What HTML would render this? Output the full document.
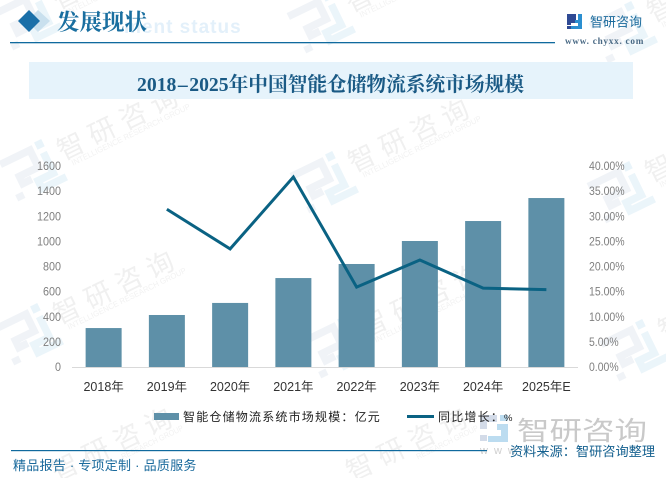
<!DOCTYPE html>
<html lang="zh">
<head>
<meta charset="utf-8">
<title>2018-2025年中国智能仓储物流系统市场规模</title>
<style>
html,body{margin:0;padding:0;background:#fff;width:666px;height:478px;overflow:hidden}
#stage{display:block;width:666px;height:478px}
text{font-family:"Liberation Sans","Noto Sans CJK SC",sans-serif}
.serif{font-family:"Liberation Serif","Noto Serif CJK SC",serif;font-weight:700}
</style>
</head>
<body>
<svg id="stage" xmlns="http://www.w3.org/2000/svg" width="666" height="478" viewBox="0 0 666 478">
  <defs>
    <g id="logo-mark">
      <path d="M-27 -17 L6 -17 L6 2 L-15 2 L-15 10 L-5 10" fill="none" stroke="#f0f3f7" stroke-width="7.5"/>
      <rect x="-27" y="17" width="8" height="7" fill="#f0f3f7"/>
      <rect x="13" y="-22" width="8" height="8" fill="#e9f4fa"/>
      <path d="M17 -9 L17 14 L0 14 L0 23 L27 23" fill="none" stroke="#ebf5fa" stroke-width="7.5"/>
    </g>
  </defs>
  <g id="watermarks"></g>

  <g>
    <text x="124" y="33" font-size="19" font-weight="700" fill="#e3f0fa" letter-spacing="1">ment status</text>
    <polygon points="38,10 50,21 38,32 27,21" fill="#c9e0ee"/>
    <polygon points="29,10 40,21 29,32 18,21" fill="#1a6fa8"/>
    <text x="57" y="30" font-size="22.5" class="serif" fill="#1a6fa0">发展现状</text>
    <rect x="10" y="42" width="545" height="1.3" fill="#106a9e"/>
  </g>

  <g>
    <path d="M567 14h9v9h-5v2h-4z M567 26h4v3h-4z" fill="#2f4a94"/>
    <path d="M578 14h4v15h-11v-3h7v-3h-3v-3h3z" fill="#2b8fd0"/>
    <text x="590" y="26.5" font-size="13" fill="#1a6a9c">智研咨询</text>
    <text x="565" y="44" font-size="9.2" class="serif" fill="#4a6a85" letter-spacing="0.75">www. chyxx. com</text>
  </g>

  <rect x="29" y="62" width="604" height="37" fill="#e6f3fb"/>
  <text x="137" y="91" font-size="19.7" class="serif" fill="#1a5a85">2018<tspan dx="1.5">–</tspan><tspan dx="1.5">2025年中国智能仓储物流系统市场规模</tspan></text>

  <g id="plot"></g>

  <g>
    <path d="M480 415h17v7h-10v7h-7z M480 435h7v6h-7z" fill="#d3dbe8"/>
    <path d="M500 415h8v6h-8z M500 424h8v18h-20v-6h13v-6h-4v-6z" fill="#bcdcf0"/>
    <text x="517" y="440" font-size="26" fill="#c9c9c9" textLength="130" lengthAdjust="spacingAndGlyphs">智研咨询</text>
    <text x="480" y="454" font-size="11" fill="#cfcfcf" letter-spacing="6">www</text>
  </g>

  <g>
    <rect x="154" y="413" width="25" height="7" fill="#5e90a8"/>
    <text x="183" y="421" font-size="12" fill="#222" letter-spacing="1.2">智能仓储物流系统市场规模：亿元</text>
    <line x1="407" x2="434" y1="416.5" y2="416.5" stroke="#0a6283" stroke-width="3"/>
    <text x="438" y="421" font-size="12" fill="#222" letter-spacing="1.2">同比增长：<tspan font-size="9.5" letter-spacing="0">%</tspan></text>
  </g>

  <g>
    <rect x="11" y="450" width="476" height="1.2" fill="#106a9e"/>
    <text x="13" y="470" font-size="13" fill="#1a6a9c" letter-spacing="0.25">精品报告 · 专项定制 · 品质服务</text>
    <text x="510" y="456" font-size="13.2" fill="#14608f">资料来源：智研咨询整理</text>
  </g>
</svg>
<script>
var categories = ["2018年","2019年","2020年","2021年","2022年","2023年","2024年","2025年E"];
var marketSize = [310,414,510,708,820,1003,1162,1345];
var growthRate = [null,31.4,23.5,37.8,15.9,21.3,15.7,15.4];
var leftTicks = [0,200,400,600,800,1000,1200,1400,1600];
var rightTicks = [0,5,10,15,20,25,30,35,40];

var NS = "http://www.w3.org/2000/svg";
var plotLeft = 72, plotRight = 578, plotTop = 166, plotBottom = 367;
var leftMax = 1600, rightMax = 40, barWidth = 36;

function xBand(i){ return plotLeft + (i + 0.5) * (plotRight - plotLeft) / categories.length; }
function yLeft(v){ return plotBottom - v / leftMax * (plotBottom - plotTop); }
function yRight(v){ return plotBottom - v / rightMax * (plotBottom - plotTop); }
function make(parent, tag, attrs, txt){
  var el = document.createElementNS(NS, tag);
  for (var k in attrs) el.setAttribute(k, attrs[k]);
  if (txt !== undefined) el.textContent = txt;
  parent.appendChild(el);
  return el;
}
function labelWidth(s){
  var w = 0;
  for (var i = 0; i < s.length; i++) w += s[i] === "." ? 3 : s[i] === "%" ? 8.6 : 6;
  return w;
}

var plot = document.getElementById("plot");
var el;

marketSize.forEach(function(v, i){
  el = make(plot, "rect", {x: xBand(i) - barWidth / 2, y: yLeft(v), width: barWidth, height: plotBottom - yLeft(v), fill: "#5e90a8"});
  
  
});

el = make(plot, "line", {x1: plotLeft, x2: plotRight, y1: plotBottom + 0.5, y2: plotBottom + 0.5, stroke: "#d9d9d9", "stroke-width": 1});



leftTicks.forEach(function(t){
  var s = String(t);
  el = make(plot, "text", {x: 61 - labelWidth(s), y: yLeft(t) + 4, "font-size": 12, fill: "#7f7f7f", textLength: labelWidth(s), lengthAdjust: "spacingAndGlyphs"}, s);
  
  
});

rightTicks.forEach(function(t){
  var s = t.toFixed(2) + "%";
  el = make(plot, "text", {x: 589, y: yRight(t) + 4, "font-size": 12, fill: "#7f7f7f", textLength: labelWidth(s), lengthAdjust: "spacingAndGlyphs"}, s);
  
  
});

categories.forEach(function(c, i){
  el = make(plot, "text", {x: xBand(i), y: 391, "font-size": 12.5, fill: "#333", "text-anchor": "middle"}, c);
  
  
});

var pts = [];
growthRate.forEach(function(v, i){
  if (v !== null) pts.push(xBand(i) + "," + yRight(v));
});
el = make(plot, "polyline", {points: pts.join(" "), fill: "none", stroke: "#0a6283", "stroke-width": 3, "stroke-linejoin": "miter"});



/* tiled background watermark */
var wmAnchors = [[27,17],[320,20],[622,30],[32,168],[323,180],[620,190],[28,332],[335,345],[633,348]];
var wmBottomAnchors = [[26,489],[321,489]];
var wmLayer = document.getElementById("watermarks");
wmAnchors.forEach(function(p){
  var g = make(wmLayer, "g", {transform: "translate(" + p[0] + " " + p[1] + ") rotate(-26)"});
  
  
  make(g, "use", {href: "#logo-mark"});
  make(g, "text", {x: 100, y: 7, "font-size": 27, fill: "#f0f0f0", "letter-spacing": 7.5, "text-anchor": "middle"}, "智研咨询");
  make(g, "text", {x: 38, y: 16, "font-size": 8, fill: "#f2f2f2", textLength: 131, lengthAdjust: "spacingAndGlyphs"}, "INTELLIGENCE RESEARCH GROUP");
});
wmBottomAnchors.forEach(function(p){
  var g = make(wmLayer, "g", {transform: "translate(" + p[0] + " " + p[1] + ") rotate(-26)"});
  
  
  make(g, "text", {x: 100, y: 7, "font-size": 27, fill: "#f0f0f0", "letter-spacing": 7.5, "text-anchor": "middle"}, "智研咨询");
  make(g, "text", {x: 100, y: 16, "font-size": 8, fill: "#f2f2f2", textLength: 68, lengthAdjust: "spacingAndGlyphs"}, "RESEARCH GROUP");
});
</script>
</body>
</html>
